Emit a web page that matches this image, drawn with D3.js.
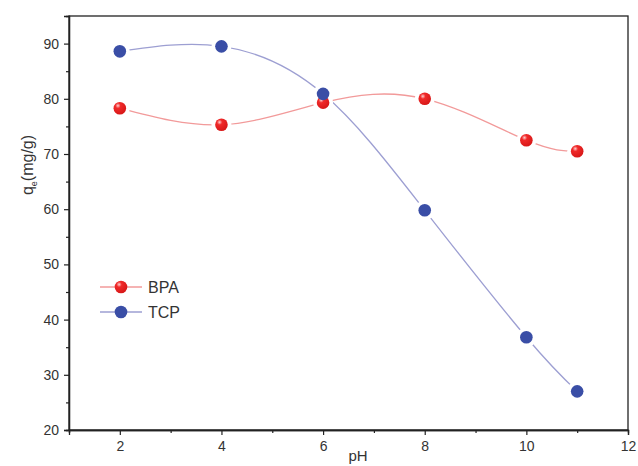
<!DOCTYPE html>
<html><head><meta charset="utf-8">
<script src="https://cdn.jsdelivr.net/npm/d3@7"></script>
<style>body{margin:0;background:#fff}svg{display:block}text{font-family:"Liberation Sans",Arial,sans-serif}</style>
</head><body>
<svg id="c" width="638" height="466"></svg>
<script>
const pH = [2, 4, 6, 8, 10, 11];
const bpa = [78.3, 75.3, 79.3, 80.0, 72.5, 70.5];
const tcp = [88.6, 89.5, 80.9, 59.8, 36.8, 27.0];
const xTicks = [2, 4, 6, 8, 10, 12];
const yTicks = [20, 30, 40, 50, 60, 70, 80, 90];
const seriesNames = ["BPA", "TCP"];

const svg = d3.select("#c");
const L = 69, R = 628, T = 16, B = 430;
const x = d3.scaleLinear().domain([1, 12]).range([L, R]);
const y = d3.scaleLinear().domain([20, 95]).range([B, T]);

const defs = svg.append("defs");
const g1 = defs.append("radialGradient").attr("id","rg").attr("cx","0.35").attr("cy","0.3").attr("r","0.7");
g1.append("stop").attr("offset","0").attr("stop-color","#ffd0d0");
g1.append("stop").attr("offset","0.3").attr("stop-color","#f02a2a");
g1.append("stop").attr("offset","1").attr("stop-color","#d81818");

svg.append("rect").attr("x",L).attr("y",T).attr("width",R-L).attr("height",B-T)
  .attr("fill","none").attr("stroke","#222").attr("stroke-width",1.3);

const xa = svg.append("g").attr("transform",`translate(0,${B})`)
  .call(d3.axisBottom(x).tickValues(xTicks).tickSize(5).tickPadding(6).tickFormat(d3.format("d")));
const xm = svg.append("g").attr("transform",`translate(0,${B})`)
  .call(d3.axisBottom(x).tickValues([1,3,5,7,9,11]).tickSize(3).tickFormat(""));
const ya = svg.append("g").attr("transform",`translate(${L},0)`)
  .call(d3.axisLeft(y).tickValues(yTicks).tickSize(5).tickPadding(5).tickFormat(d3.format("d")));
const ym = svg.append("g").attr("transform",`translate(${L},0)`)
  .call(d3.axisLeft(y).tickValues([25,35,45,55,65,75,85]).tickSize(3).tickFormat(""));
[xa,xm,ya,ym].forEach(a=>{
  a.select(".domain").attr("stroke","#222").attr("stroke-width",1.3);
  a.selectAll(".tick line").attr("stroke","#222").attr("stroke-width",1.2);
  a.selectAll("text").attr("fill","#333").style("font-size","14px");
});

svg.append("text").attr("x",358).attr("y",461).attr("text-anchor","middle")
  .attr("fill","#333").style("font-size","15px").text("pH");
const yl = svg.append("text").attr("transform",`translate(33,165) rotate(-90)`)
  .attr("text-anchor","middle").attr("fill","#333").style("font-size","16px");
yl.append("tspan").text("q");
yl.append("tspan").attr("dy",4).style("font-size","9px").text("e");
yl.append("tspan").attr("dy",-4).text("(mg/g)");

const line = d3.line().x(d=>x(d[0])).y(d=>y(d[1])).curve(d3.curveNatural);
const cfg = [
  {vals: bpa, line: "#f29a9a", fill: "url(#rg)"},
  {vals: tcp, line: "#9d9fd2", fill: "#3a4ea6"}
];
cfg.forEach(c=>{
  const pts = pH.map((p,i)=>[p,c.vals[i]]);
  svg.append("path").attr("d",line(pts)).attr("fill","none").attr("stroke",c.line).attr("stroke-width",1.3);
});
cfg.forEach(c=>{
  pH.forEach((p,i)=>{
    svg.append("circle").attr("cx",x(p)).attr("cy",y(c.vals[i])).attr("r",10).attr("fill","#fff");
  });
});
cfg.forEach(c=>{
  pH.forEach((p,i)=>{
    svg.append("circle").attr("cx",x(p)).attr("cy",y(c.vals[i])).attr("r",6.3).attr("fill",c.fill);
  });
});

seriesNames.forEach((n,i)=>{
  const yy = 287 + i*25, c = cfg[i];
  svg.append("line").attr("x1",100).attr("x2",142).attr("y1",yy).attr("y2",yy).attr("stroke",c.line).attr("stroke-width",1.3);
  svg.append("circle").attr("cx",121).attr("cy",yy).attr("r",6.3).attr("fill",c.fill);
  svg.append("text").attr("x",148).attr("y",yy+6).attr("fill","#333").style("font-size","16px").text(n);
});
</script>
</body></html>
